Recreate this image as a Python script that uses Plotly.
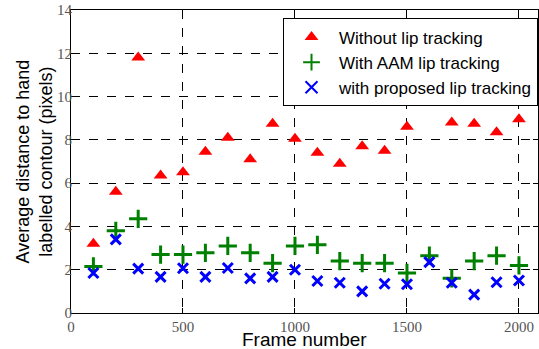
import plotly.graph_objects as go

frames = [100, 200, 300, 400, 500, 600, 700, 800, 900, 1000,
          1100, 1200, 1300, 1400, 1500, 1600, 1700, 1800, 1900, 2000]
without_lip = [3.2, 5.6, 11.8, 6.35, 6.5, 7.45, 8.1, 7.1, 8.75, 8.05,
               7.4, 6.9, 7.7, 7.5, 8.6, 9.75, 8.8, 8.75, 8.35, 8.95]
aam_lip = [2.15, 3.8, 4.35, 2.7, 2.7, 2.78, 3.1, 2.78, 2.3, 3.1,
           3.15, 2.4, 2.3, 2.3, 1.85, 2.65, 1.6, 2.4, 2.65, 2.2]
proposed_lip = [1.85, 3.4, 2.05, 1.67, 2.07, 1.67, 2.08, 1.6, 1.67, 2.0,
                1.48, 1.4, 1.0, 1.35, 1.33, 2.35, 1.4, 0.85, 1.42, 1.5]
x_ticks = [0, 500, 1000, 1500, 2000]
y_ticks = [0, 2, 4, 6, 8, 10, 12, 14]

fig = go.Figure()
fig.add_trace(go.Scatter(x=frames, y=without_lip, mode="markers", name="Without lip tracking",
                         marker=dict(symbol="triangle-up", size=12, color="red", line=dict(width=0))))
fig.add_trace(go.Scatter(x=frames, y=aam_lip, mode="markers", name="With AAM lip tracking",
                         marker=dict(symbol="cross-thin", size=13, color="green",
                                     line=dict(width=3, color="green"))))
fig.add_trace(go.Scatter(x=frames, y=proposed_lip, mode="markers", name="with proposed lip tracking",
                         marker=dict(symbol="x-thin", size=10, color="blue",
                                     line=dict(width=3, color="blue"))))

axis_common = dict(showline=True, linecolor="black", linewidth=1, mirror="ticks",
                   ticks="inside", ticklen=5, tickcolor="black",
                   showgrid=True, gridcolor="black", griddash="dash", gridwidth=1,
                   zeroline=False, automargin=False, ticklabeloverflow="allow",
                   tickfont=dict(family="Liberation Serif", size=15, color="#555555"))

fig.update_layout(
    width=539, height=349,
    margin=dict(l=71, r=1, t=10, b=36),
    plot_bgcolor="white", paper_bgcolor="white",
    xaxis=dict(range=[0, 2085], tickvals=x_ticks, ticktext=[str(v) for v in x_ticks],
               **axis_common),
    yaxis=dict(range=[0, 14], tickvals=y_ticks, ticktext=[str(v) for v in y_ticks],
               ticklabelstandoff=-5, **axis_common),
    legend=dict(x=0.454, y=0.972, xanchor="left", yanchor="top",
                bgcolor="white", bordercolor="black", borderwidth=1,
                font=dict(family="Liberation Sans", size=17, color="black"),
                tracegroupgap=0, itemsizing="constant", itemwidth=45),
    showlegend=True,
    annotations=[
        dict(text="Frame number", xref="paper", yref="paper", x=0.5, y=0,
             xanchor="center", yanchor="middle", yshift=-26, showarrow=False,
             font=dict(family="Liberation Sans", size=19, color="black")),
        dict(text="Average distance to hand<br>labelled contour (pixels)", xref="paper", yref="paper",
             x=0, y=0.5, xanchor="center", yanchor="middle", xshift=-37, showarrow=False,
             textangle=-90, font=dict(family="Liberation Sans", size=18, color="black")),
    ],
)

fig.write_html("out.html", config={"displayModeBar": False},
               post_script="document.body.style.margin='0';")
